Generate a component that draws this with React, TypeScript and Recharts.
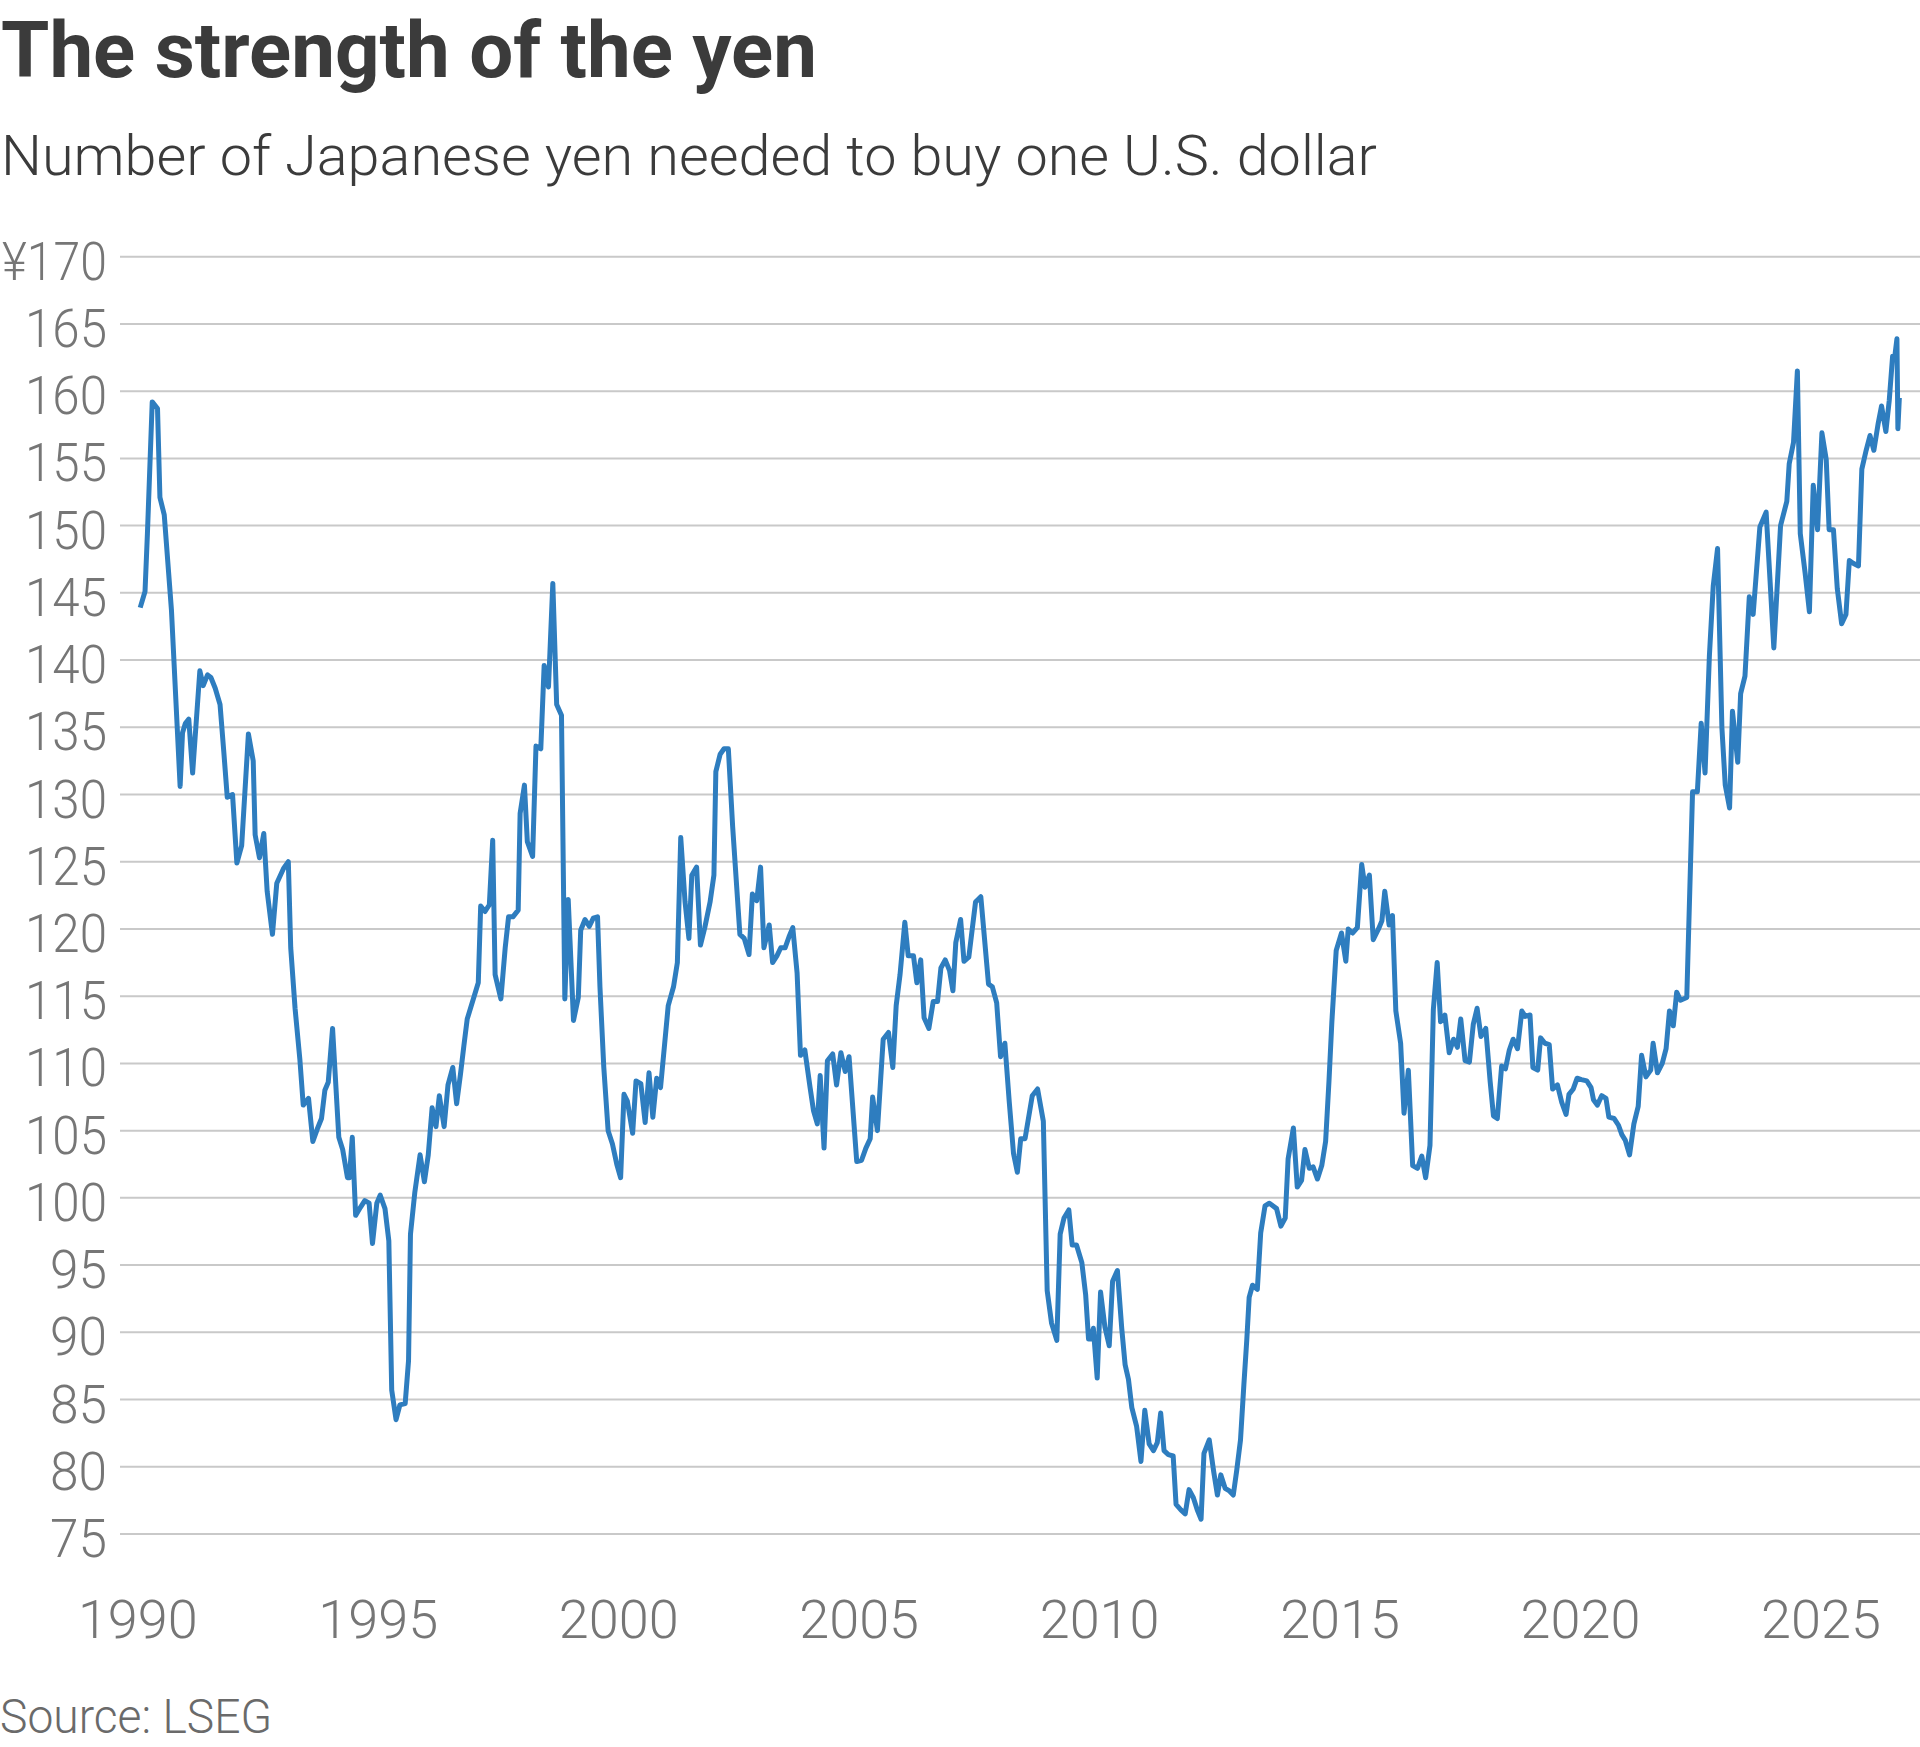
import React from 'react';
import { LineChart, Line, XAxis, YAxis, CartesianGrid } from 'recharts';

// Decimal-year positions of the line's vertices
const dates: number[] = [
  1990.05, 1990.15, 1990.20, 1990.30, 1990.41, 1990.46, 1990.55, 1990.70, 1990.88, 1990.93,
  1990.99, 1991.06, 1991.14, 1991.29, 1991.36, 1991.45, 1991.52, 1991.61, 1991.71, 1991.79,
  1991.86, 1991.97, 1992.06, 1992.16, 1992.30, 1992.40, 1992.44, 1992.53, 1992.62, 1992.69,
  1992.80, 1992.89, 1993.03, 1993.13, 1993.18, 1993.27, 1993.37, 1993.44, 1993.55, 1993.64,
  1993.73, 1993.82, 1993.89, 1993.96, 1994.05,
  1994.18, 1994.26, 1994.36, 1994.40, 1994.46, 1994.53, 1994.63, 1994.72, 1994.81, 1994.88,
  1994.97, 1995.04, 1995.14, 1995.22, 1995.28, 1995.37, 1995.45, 1995.56, 1995.63, 1995.67,
  1995.76, 1995.87, 1995.96, 1996.04, 1996.12, 1996.20, 1996.27, 1996.37, 1996.45, 1996.55,
  1996.63, 1996.71, 1996.78, 1996.85,
  1997.08, 1997.13, 1997.22, 1997.31, 1997.38, 1997.43, 1997.55, 1997.64, 1997.71, 1997.80,
  1997.91, 1997.95, 1998.04, 1998.10, 1998.21, 1998.28, 1998.38, 1998.45, 1998.54, 1998.63,
  1998.71, 1998.81, 1998.88, 1998.95, 1999.06, 1999.16, 1999.21, 1999.30, 1999.39, 1999.47,
  1999.56,
  1999.61, 1999.69, 1999.78, 1999.87, 1999.96, 2000.04, 2000.11, 2000.18, 2000.29, 2000.36,
  2000.46, 2000.55, 2000.63, 2000.71, 2000.79, 2000.87, 2001.03, 2001.14, 2001.22, 2001.29,
  2001.38, 2001.46, 2001.52, 2001.62, 2001.70, 2001.79, 2001.90, 2001.98, 2002.02, 2002.11,
  2002.19, 2002.28, 2002.37, 2002.52, 2002.61, 2002.71, 2002.78, 2002.87, 2002.95, 2003.02,
  2003.13, 2003.20, 2003.29, 2003.37, 2003.46, 2003.54, 2003.62, 2003.71, 2003.78, 2003.87,
  2003.98, 2004.05, 2004.13,
  2004.19, 2004.27, 2004.34, 2004.45, 2004.53, 2004.62, 2004.71, 2004.79, 2004.95, 2005.05,
  2005.14, 2005.23, 2005.28, 2005.38, 2005.50, 2005.61, 2005.70, 2005.77, 2005.85, 2005.95,
  2006.02, 2006.13, 2006.20, 2006.28, 2006.35, 2006.45, 2006.54, 2006.63, 2006.70, 2006.79,
  2006.88, 2006.95, 2007.01, 2007.11, 2007.18, 2007.28, 2007.42, 2007.53, 2007.69, 2007.77,
  2007.86, 2007.94, 2008.03, 2008.12, 2008.21, 2008.29, 2008.36, 2008.45, 2008.60, 2008.71,
  2008.83, 2008.91, 2009.00, 2009.11, 2009.18, 2009.26, 2009.36, 2009.43, 2009.52, 2009.63,
  2009.71, 2009.77, 2009.81, 2009.87, 2009.95, 2010.02, 2010.11, 2010.20, 2010.27, 2010.37,
  2010.46, 2010.53, 2010.60, 2010.67, 2010.77, 2010.86, 2010.94, 2011.03, 2011.12, 2011.20,
  2011.27, 2011.34, 2011.43, 2011.53, 2011.59, 2011.69, 2011.78, 2011.86, 2011.95, 2012.03,
  2012.11, 2012.17, 2012.28, 2012.37, 2012.45, 2012.52, 2012.61, 2012.70, 2012.78, 2012.85,
  2012.93, 2013.00, 2013.06, 2013.11, 2013.18, 2013.28, 2013.35, 2013.44, 2013.53, 2013.68,
  2013.77, 2013.86,
  2013.92, 2014.03, 2014.11, 2014.20, 2014.27, 2014.36, 2014.44, 2014.53, 2014.62, 2014.70,
  2014.77, 2014.83, 2014.92, 2015.03, 2015.12, 2015.17, 2015.26, 2015.36, 2015.45, 2015.52,
  2015.61, 2015.69, 2015.80, 2015.87, 2015.93, 2016.02, 2016.09, 2016.16, 2016.26, 2016.33,
  2016.42, 2016.51, 2016.61, 2016.70, 2016.78, 2016.87, 2016.94, 2017.02, 2017.09, 2017.18,
  2017.27, 2017.36, 2017.44, 2017.51, 2017.60, 2017.69, 2017.77, 2017.85, 2017.93, 2018.03,
  2018.12,
  2018.19, 2018.27, 2018.36, 2018.44, 2018.52, 2018.60, 2018.69, 2018.78, 2018.85, 2018.95,
  2019.01, 2019.11, 2019.17, 2019.26, 2019.35, 2019.42, 2019.52, 2019.61, 2019.70, 2019.76,
  2019.85, 2019.93, 2020.02, 2020.13, 2020.22, 2020.27, 2020.35, 2020.44, 2020.53, 2020.59,
  2020.70, 2020.79, 2020.86, 2020.93, 2021.02, 2021.11, 2021.20, 2021.27, 2021.36, 2021.46,
  2021.51, 2021.60, 2021.70, 2021.78, 2021.85, 2021.93, 2022.00, 2022.08, 2022.21,
  2022.33, 2022.43, 2022.51, 2022.59, 2022.68, 2022.76, 2022.85, 2022.94, 2023.01, 2023.10,
  2023.16, 2023.27, 2023.33, 2023.42, 2023.51, 2023.59, 2023.73, 2023.86, 2023.94, 2024.02,
  2024.16, 2024.29, 2024.34, 2024.43, 2024.51, 2024.57, 2024.67, 2024.76, 2024.84, 2024.93,
  2025.02, 2025.11, 2025.17, 2025.26, 2025.34, 2025.43, 2025.52, 2025.59, 2025.67, 2025.78,
  2025.85, 2025.94, 2026.02, 2026.10, 2026.19, 2026.26, 2026.35, 2026.42, 2026.49, 2026.54,
  2026.58, 2026.60, 2026.63,
];

// Yen per U.S. dollar at each vertex
const yen: number[] = [
  143.9, 145.1, 149.4, 159.2, 158.7, 152.1, 150.8, 143.7, 130.6, 134.6,
  135.3, 135.6, 131.6, 139.2, 138.1, 138.9, 138.7, 137.9, 136.7, 133.1,
  129.8, 130.0, 124.9, 126.2, 134.5, 132.5, 127.0, 125.3, 127.1, 122.8,
  119.6, 123.4, 124.5, 125.0, 118.6, 114.1, 110.3, 106.9, 107.4, 104.2,
  105.1, 105.9, 108.0, 108.6, 112.6,
  104.5, 103.6, 101.5, 101.5, 104.5, 98.7, 99.3, 99.8, 99.6, 96.6,
  99.6, 100.2, 99.2, 96.8, 85.7, 83.5, 84.6, 84.7, 87.9, 97.3,
  100.4, 103.2, 101.2, 103.2, 106.7, 105.3, 107.6, 105.3, 108.4, 109.7,
  107.0, 109.2, 111.3, 113.3,
  116.0, 121.7, 121.3, 121.8, 126.6, 116.6, 114.8, 118.6, 120.9, 120.9,
  121.4, 128.6, 130.7, 126.5, 125.4, 133.6, 133.4, 139.6, 138.0, 145.7,
  136.7, 135.9, 114.8, 122.2, 113.2, 114.9, 119.9, 120.7, 120.2, 120.8,
  120.9,
  115.7, 109.7, 105.0, 104.0, 102.5, 101.5, 107.7, 107.2, 104.8, 108.7,
  108.5, 105.6, 109.3, 106.0, 108.9, 108.2, 114.3, 115.7, 117.5, 126.8,
  122.0, 119.3, 124.0, 124.6, 118.8, 120.1, 122.0, 124.0, 131.7, 133.0,
  133.4, 133.4, 127.6, 119.6, 119.3, 118.1, 122.6, 122.1, 124.6, 118.6,
  120.3, 117.5, 118.0, 118.6, 118.6, 119.4, 120.1, 116.7, 110.6, 111.0,
  108.2, 106.5, 105.5,
  109.1, 103.7, 110.2, 110.7, 108.4, 110.8, 109.4, 110.5, 102.7, 102.8,
  103.7, 104.4, 107.5, 105.0, 111.8, 112.3, 109.7, 114.3, 116.6, 120.5,
  118.0, 118.0, 116.0, 117.7, 113.4, 112.6, 114.6, 114.6, 117.1, 117.7,
  116.9, 115.4, 119.0, 120.7, 117.6, 117.9, 122.0, 122.4, 115.9, 115.7,
  114.5, 110.5, 111.5, 107.2, 103.3, 101.9, 104.4, 104.4, 107.6, 108.1,
  105.7, 93.1, 90.7, 89.4, 97.3, 98.5, 99.1, 96.5, 96.5, 95.2,
  92.8, 89.5, 89.5, 90.3, 86.6, 93.0, 90.4, 89.0, 93.8, 94.6,
  90.3, 87.6, 86.5, 84.4, 83.0, 80.4, 84.2, 81.7, 81.2, 81.8,
  84.0, 81.2, 80.9, 80.8, 77.2, 76.8, 76.5, 78.3, 77.7, 76.8,
  76.1, 81.0, 82.0, 79.7, 77.9, 79.4, 78.4, 78.2, 77.9, 79.7,
  82.0, 86.1, 89.4, 92.6, 93.5, 93.2, 97.4, 99.4, 99.6, 99.2,
  97.9, 98.5,
  102.9, 105.2, 100.8, 101.3, 103.6, 102.2, 102.3, 101.4, 102.4, 104.2,
  108.7, 113.1, 118.4, 119.7, 117.6, 120.0, 119.7, 120.1, 124.8, 123.1,
  124.0, 119.2, 120.0, 120.6, 122.8, 120.3, 121.0, 113.9, 111.5, 106.3,
  109.5, 102.4, 102.2, 103.1, 101.5, 103.9, 114.0, 117.5, 113.1, 113.6,
  110.8, 111.8, 111.2, 113.3, 110.2, 110.1, 112.9, 114.1, 112.0, 112.6,
  108.7,
  106.1, 105.9, 109.8, 109.6, 111.0, 111.8, 111.1, 113.9, 113.5, 113.6,
  109.7, 109.5, 111.9, 111.5, 111.4, 108.1, 108.4, 107.1, 106.2, 107.7,
  108.1, 108.9, 108.8, 108.7, 108.2, 107.3, 106.9, 107.6, 107.4, 106.0,
  105.9, 105.4, 104.7, 104.3, 103.2, 105.5, 106.8, 110.6, 109.0, 109.5,
  111.5, 109.3, 110.0, 111.1, 113.9, 112.8, 115.3, 114.7, 114.9,
  130.2, 130.2, 135.3, 131.6, 140.3, 145.5, 148.3, 135.0, 130.7, 129.0,
  136.2, 132.4, 137.5, 138.8, 144.7, 143.4, 149.9, 151.0, 146.0, 140.9,
  150.0, 151.8, 154.6, 156.2, 161.5, 149.4, 146.5, 143.6, 153.0, 149.7,
  156.9, 154.9, 149.7, 149.7, 145.3, 142.7, 143.4, 147.4, 147.2, 147.0,
  154.2, 155.6, 156.7, 155.6, 157.6, 158.9, 157.0, 159.3, 162.6, 162.7,
  163.9, 157.2, 159.5,
];

const yearTicks: number[] = [1990, 1995, 2000, 2005, 2010, 2015, 2020, 2025];
const yenTicks: number[] = [75, 80, 85, 90, 95, 100, 105, 110, 115, 120, 125, 130, 135, 140, 145, 150, 155, 160, 165, 170];

const titleText = 'The strength of the yen';
const subtitleText = 'Number of Japanese yen needed to buy one U.S. dollar';
const sourceText = 'Source: LSEG';

const data = dates.map((t, i) => ({ t, v: yen[i] }));

const W = 1920;
const H = 1747;
const PLOT_LEFT = 120;
const PLOT_TOP = 256.7;
const PLOT_BOTTOM = 1534;
const X_AXIS_H = 150;
const PX_PER_YEAR = 48.09;
const X_1990 = 137.8;
const X_MIN = 1990 - (X_1990 - PLOT_LEFT) / PX_PER_YEAR;
const X_MAX = 1990 + (W - X_1990) / PX_PER_YEAR;

const FONT = 'Roboto, "Noto Sans", sans-serif';
const TICK_COLOR = '#767676';

const XTick = (props: any) => {
  const { x, y, payload } = props;
  return (
    <text x={x} y={y} textAnchor="middle" fill={TICK_COLOR} fontFamily={FONT} fontWeight={300} fontSize={54}>
      {payload.value}
    </text>
  );
};

const YTick = (props: any) => {
  const { x, y, payload } = props;
  const label = payload.value === 170 ? '¥170' : String(payload.value);
  const len = label.length >= 4 ? 105 : label.length === 3 ? 82 : 57;
  return (
    <text
      x={x}
      y={y + 23}
      textAnchor="end"
      fill={TICK_COLOR}
      fontFamily={FONT}
      fontWeight={300}
      fontSize={54}
      textLength={len}
      lengthAdjust="spacingAndGlyphs"
    >
      {label}
    </text>
  );
};

export default function App() {
  return (
    <div style={{ position: 'absolute', left: 0, top: 0, width: W, height: H, overflow: 'hidden', background: '#fff' }}>
      <div style={{ position: 'absolute', left: 0, top: 0 }}>
        <LineChart
          width={W}
          height={H}
          data={data}
          margin={{ top: PLOT_TOP, right: 0, bottom: H - PLOT_BOTTOM - X_AXIS_H, left: 0 }}
        >
          <CartesianGrid vertical={false} stroke="#c9c9c9" strokeWidth={2} />
          <XAxis
            type="number"
            dataKey="t"
            domain={[X_MIN, X_MAX]}
            ticks={yearTicks}
            allowDataOverflow
            axisLine={false}
            tickLine={false}
            tickSize={6}
            tickMargin={1638 - PLOT_BOTTOM - 6}
            height={X_AXIS_H}
            tick={<XTick />}
            interval={0}
          />
          <YAxis
            type="number"
            domain={[75, 170]}
            ticks={yenTicks}
            axisLine={false}
            tickLine={false}
            tickSize={6}
            tickMargin={7}
            width={PLOT_LEFT}
            tick={<YTick />}
            interval={0}
          />
          <Line
            type="linear"
            dataKey="v"
            stroke="#2e7dbf"
            strokeWidth={5}
            strokeLinejoin="round"
            dot={false}
            activeDot={false}
            isAnimationActive={false}
          />
        </LineChart>
      </div>
      <svg width={W} height={H} style={{ position: 'absolute', left: 0, top: 0, pointerEvents: 'none' }}>
        <text x={1} y={77} fontFamily={FONT} fontWeight={700} fontSize={77} fill="#3b3b3b" textLength={816} lengthAdjust="spacingAndGlyphs">
          {titleText}
        </text>
        <text x={1} y={175} fontFamily={FONT} fontWeight={300} fontSize={56} fill="#3b3b3b" textLength={1376} lengthAdjust="spacingAndGlyphs">
          {subtitleText}
        </text>
        <text x={0} y={1733} fontFamily={FONT} fontWeight={300} fontSize={49} fill="#6a6a6a" textLength={272} lengthAdjust="spacingAndGlyphs">
          {sourceText}
        </text>
      </svg>
    </div>
  );
}
